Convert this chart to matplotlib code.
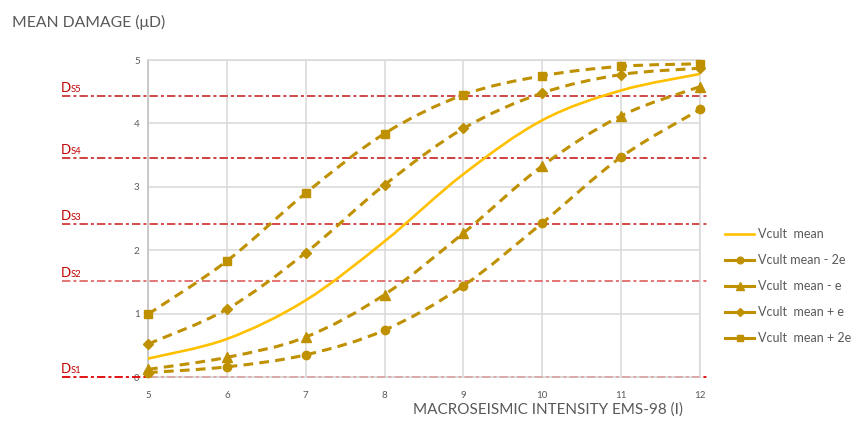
import numpy as np
import matplotlib
matplotlib.use('Agg')
import matplotlib.pyplot as plt
from matplotlib.path import Path
from matplotlib.patches import PathPatch
from matplotlib.lines import Line2D
import matplotlib.transforms as mtransforms

plt.rcParams['font.family'] = ['Lato', 'DejaVu Sans']
plt.rcParams['lines.scale_dashes'] = False

# ---------------- data ----------------
intensity = [5, 6, 7, 8, 9, 10, 11, 12]
mean_vals = [0.29, 0.60, 1.21, 2.14, 3.20, 4.05, 4.52, 4.78]
minus_2e = [0.07, 0.16, 0.35, 0.74, 1.44, 2.43, 3.47, 4.22]
minus_e = [0.12, 0.31, 0.63, 1.30, 2.27, 3.33, 4.12, 4.58]
plus_e = [0.52, 1.07, 1.96, 3.03, 3.92, 4.48, 4.77, 4.87]
plus_2e = [0.99, 1.83, 2.90, 3.84, 4.45, 4.75, 4.90, 4.94]

ds_levels = [0.0, 1.51, 2.42, 3.45, 4.43]
ds_names = ['S1', 'S2', 'S3', 'S4', 'S5']
ds_colors = ['#e00000', '#e06a6a', '#d23c3c', '#cc3030', '#cc3a3a']

labels = ['Vcult  mean', 'Vcult mean - 2e', 'Vcult  mean - e',
          'Vcult  mean + e', 'Vcult  mean + 2e']
x_ticks = [5, 6, 7, 8, 9, 10, 11, 12]
y_ticks = [0, 1, 2, 3, 4, 5]

GOLD = '#bf9000'
YELLOW = '#ffc000'
GRAY = '#595959'


def smooth_path(x, y):
    pts = np.column_stack([x, y]).astype(float)
    n = len(pts)
    verts = [pts[0]]
    codes = [Path.MOVETO]
    for i in range(n - 1):
        p0 = pts[max(i - 1, 0)]
        p1 = pts[i]
        p2 = pts[i + 1]
        p3 = pts[min(i + 2, n - 1)]
        c1 = p1 + (p2 - p0) / 6.0
        c2 = p2 - (p3 - p1) / 6.0
        verts += [c1, c2, p2]
        codes += [Path.CURVE4] * 3
    return Path(verts, codes)


W, H = 856, 423
fig = plt.figure(figsize=(W / 100, H / 100), dpi=100)
ax = fig.add_axes([148 / W, (H - 377) / H, (700 - 148) / W, (377 - 60) / H])
ax.set_xlim(5, 12)
ax.set_ylim(0, 5)
ax.set_xticks(x_ticks)
ax.set_yticks(y_ticks)
ax.grid(True, color='#d9d9d9', lw=1.1, zorder=0)
for s in ax.spines.values():
    s.set_color('#d9d9d9')
    s.set_linewidth(1.1)
ax.spines['left'].set_color('#bfbfbf')
ax.tick_params(length=0, labelsize=7, labelcolor=GRAY)
ax.tick_params(axis='x', pad=10)
ax.tick_params(axis='y', pad=6)

# damage state lines
trans = mtransforms.blended_transform_factory(fig.transFigure, ax.transData)
for lvl, name, col in zip(ds_levels, ds_names, ds_colors):
    ax.plot([62 / W, 708 / W], [lvl, lvl], transform=trans, clip_on=False,
            color=col, lw=1.3, linestyle=(0, (6.0, 2.2, 2.2, 2.2)), zorder=2)
    ax.annotate('D', xy=(61 / W, lvl), xycoords=trans, xytext=(0, 4),
                textcoords='offset pixels', color='#c00000', fontsize=9.5,
                ha='left', va='baseline', annotation_clip=False)
    ax.annotate(name, xy=(70.5 / W, lvl), xycoords=trans, xytext=(0, 4),
                textcoords='offset pixels', color='#c00000', fontsize=6.8,
                ha='left', va='baseline', annotation_clip=False)

# mean curve
ax.add_patch(PathPatch(smooth_path(intensity, mean_vals), fill=False,
                       edgecolor=YELLOW, lw=1.9, zorder=4))

series = [(minus_2e, 'o', 6.0), (minus_e, '^', 7.0), (plus_e, 'D', 5.5), (plus_2e, 's', 6.0)]
for vals, mk, ms in series:
    ax.add_patch(PathPatch(smooth_path(intensity, vals), fill=False,
                           edgecolor=GOLD, lw=2.2, linestyle=(0, (7.0, 4.5)),
                           capstyle='butt', zorder=3))
    ax.plot(intensity, vals, linestyle='none', marker=mk, ms=ms,
            color=GOLD, mec=GOLD, zorder=5, clip_on=False)

handles = [Line2D([], [], color=YELLOW, lw=1.9)]
for vals, mk, ms in series:
    handles.append(Line2D([], [], color=GOLD, lw=2.2, marker=mk, ms=ms * 0.8))
leg = fig.legend(handles, labels, loc='upper left',
                 bbox_to_anchor=(714 / W, 1 - 217 / H), frameon=False,
                 fontsize=9, labelcolor=GRAY, handlelength=2.3,
                 handletextpad=0.3, labelspacing=1.12)

fig.text(12 / W, 1 - 22 / H, 'MEAN DAMAGE (\u03bcD)', fontsize=11.3, color=GRAY,
         ha='left', va='center')
fig.text(413 / W, 1 - 410 / H, 'MACROSEISMIC INTENSITY EMS-98 (I)', fontsize=11,
         color=GRAY, ha='left', va='center')

fig.savefig('out.png', dpi=100)
